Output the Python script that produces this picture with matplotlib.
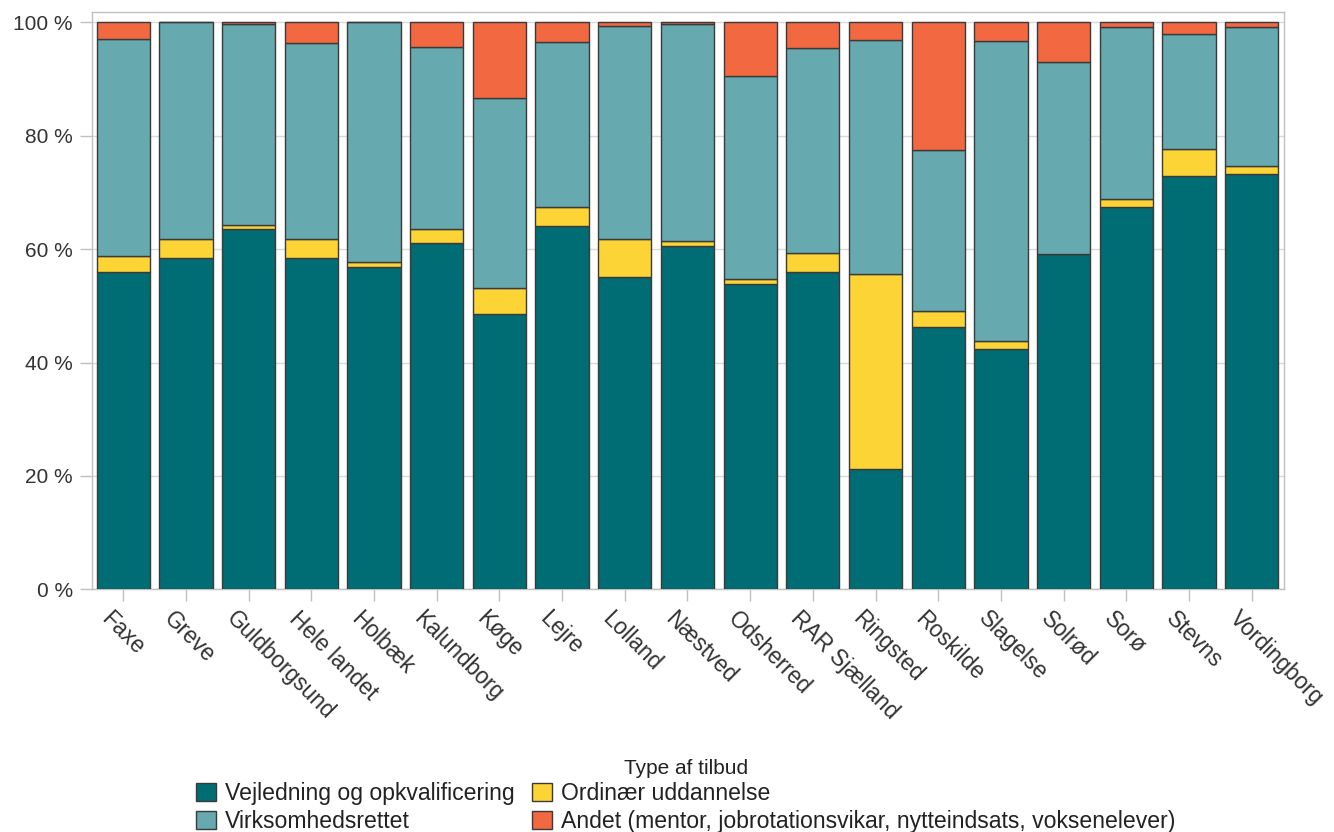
import matplotlib.pyplot as plt
import matplotlib.transforms as mtransforms
from matplotlib.ticker import FuncFormatter

plt.rcParams['font.family'] = ['Liberation Sans', 'DejaVu Sans']

kommuner = ['Faxe', 'Greve', 'Guldborgsund', 'Hele landet', 'Holbæk', 'Kalundborg',
            'Køge', 'Lejre', 'Lolland', 'Næstved', 'Odsherred', 'RAR Sjælland',
            'Ringsted', 'Roskilde', 'Slagelse', 'Solrød', 'Sorø', 'Stevns', 'Vordingborg']

# andele i procent
vejledning = [56.0, 58.4, 63.5, 58.4, 56.9, 61.1, 48.5, 64.0, 55.1, 60.5,
              53.8, 56.0, 21.3, 46.3, 42.3, 59.2, 67.4, 72.9, 73.3]
ordinaer = [2.7, 3.4, 0.7, 3.4, 0.8, 2.4, 4.7, 3.5, 6.7, 0.9,
            1.0, 3.4, 34.4, 2.8, 1.5, 0.0, 1.5, 4.8, 1.3]
virksomhed = [38.3, 38.2, 35.5, 34.5, 42.3, 32.2, 33.4, 29.1, 37.6, 38.3,
              35.7, 36.0, 41.2, 28.3, 52.9, 33.8, 30.2, 20.2, 24.5]
andet = [3.0, 0.0, 0.3, 3.7, 0.0, 4.3, 13.4, 3.4, 0.6, 0.3,
         9.5, 4.6, 3.1, 22.6, 3.3, 7.0, 0.9, 2.1, 0.9]

serier = [
    ('Vejledning og opkvalificering', vejledning, '#006c74'),
    ('Ordinær uddannelse', ordinaer, '#fdd435'),
    ('Virksomhedsrettet', virksomhed, '#66a9ae'),
    ('Andet (mentor, jobrotationsvikar, nytteindsats, voksenelever)', andet, '#f26841'),
]

fig = plt.figure(figsize=(13.34, 8.32), dpi=100)
ax = fig.add_axes([0.0687, 0.2917, 0.894, 0.6944])

x = range(len(kommuner))
bund = [0.0] * len(kommuner)
handles = {}
for navn, vaerdier, farve in serier:
    b = ax.bar(x, vaerdier, bottom=bund, width=0.85, color=farve,
               edgecolor='#3a3a3a', linewidth=1.0, zorder=3, label=navn)
    handles[navn] = b
    bund = [a + v for a, v in zip(bund, vaerdier)]

ax.set_xlim(-0.505, len(kommuner) - 0.48)
ax.set_ylim(0, 101.9)
ax.set_yticks([0, 20, 40, 60, 80, 100])
ax.yaxis.set_major_formatter(FuncFormatter(lambda v, p: f'{v:.0f} %'))
ax.grid(axis='y', color='#d9d9d9', linewidth=1.0, zorder=0)

for s in ax.spines.values():
    s.set_color('#c0c0c0')
    s.set_linewidth(1.0)

ax.tick_params(axis='y', length=8.6, width=1, color='#c0c0c0', pad=5,
               labelsize=15, labelcolor='#333333')
ax.tick_params(axis='x', length=8.6, width=1, color='#c0c0c0', pad=10,
               labelsize=16.3, labelcolor='#333333')

ax.set_xticks(list(x))
ax.set_xticklabels(kommuner, rotation=-45, ha='left', va='center',
                   rotation_mode='anchor')
skift = mtransforms.ScaledTranslation(-0.19, 0, fig.dpi_scale_trans)
for lbl in ax.get_xticklabels():
    lbl.set_transform(lbl.get_transform() + skift)

# legend: kolonnevis Vejledning/Virksomhed, Ordinær/Andet
orden = ['Vejledning og opkvalificering', 'Virksomhedsrettet',
         'Ordinær uddannelse',
         'Andet (mentor, jobrotationsvikar, nytteindsats, voksenelever)']
leg = fig.legend([handles[n] for n in orden], orden, ncol=2,
                 loc='upper center', bbox_to_anchor=(0.514, 1 - 747 / 832),
                 frameon=False, fontsize=16.6, title='Type af tilbud',
                 title_fontsize=15, handlelength=0.85, handleheight=0.85,
                 handletextpad=0.4, columnspacing=0.75, labelspacing=0.2,
                 borderpad=0.0)
for t in leg.get_texts():
    t.set_color('#222222')
leg.get_title().set_color('#222222')

fig.savefig('out.png', dpi=100)
